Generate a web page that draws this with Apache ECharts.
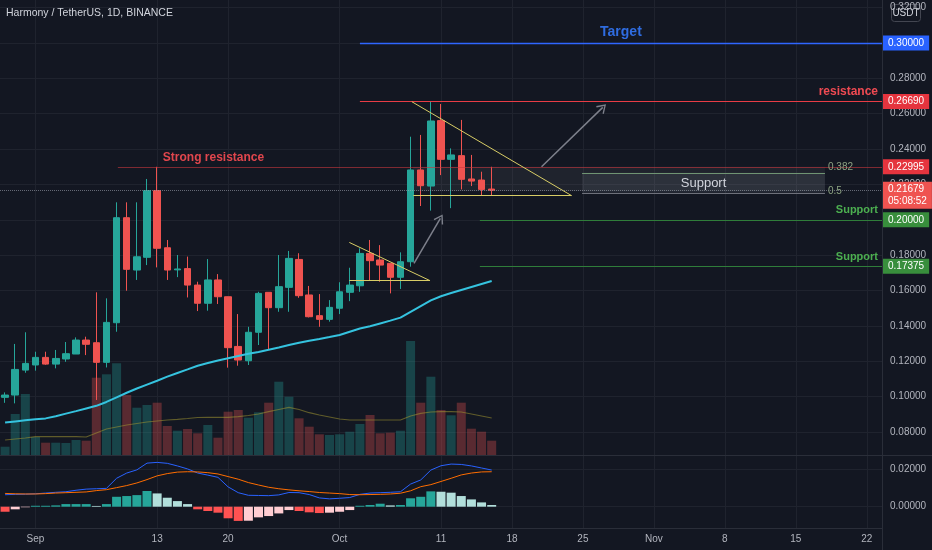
<!DOCTYPE html>
<html><head><meta charset="utf-8">
<script src="https://cdn.jsdelivr.net/npm/echarts@6/dist/echarts.min.js"></script>
<style>html,body{margin:0;padding:0;background:#131722;}#c{width:932px;height:550px;}</style>
</head><body><div id="c"></div><script>
// ---------- data ----------
const dates = ['2021-08-29','2021-08-30','2021-08-31','2021-09-01','2021-09-02','2021-09-03','2021-09-04','2021-09-05','2021-09-06','2021-09-07',
'2021-09-08','2021-09-09','2021-09-10','2021-09-11','2021-09-12','2021-09-13','2021-09-14','2021-09-15','2021-09-16','2021-09-17',
'2021-09-18','2021-09-19','2021-09-20','2021-09-21','2021-09-22','2021-09-23','2021-09-24','2021-09-25','2021-09-26','2021-09-27',
'2021-09-28','2021-09-29','2021-09-30','2021-10-01','2021-10-02','2021-10-03','2021-10-04','2021-10-05','2021-10-06','2021-10-07',
'2021-10-08','2021-10-09','2021-10-10','2021-10-11','2021-10-12','2021-10-13','2021-10-14','2021-10-15','2021-10-16'];
const open  = [0.0996,0.1009,0.1150,0.1179,0.1222,0.1184,0.1213,0.1241,0.1320,0.1305,0.1194,0.1418,0.2012,0.1716,0.1788,0.2165,0.1842,0.1717,0.1724,0.1631,0.1528,0.1660,0.1565,0.1284,0.1203,0.1364,0.1590,0.1503,0.1618,0.1776,0.1575,0.1458,0.1437,0.1500,0.1590,0.1627,0.1810,0.1773,0.1754,0.1675,0.1763,0.2282,0.2191,0.2561,0.2342,0.2363,0.2231,0.2225,0.2174];
const close = [0.1009,0.1154,0.1188,0.1222,0.1184,0.1216,0.1243,0.1320,0.1296,0.1194,0.1420,0.2012,0.1720,0.1791,0.2165,0.1839,0.1716,0.1722,0.1631,0.1528,0.1660,0.1565,0.1277,0.1207,0.1364,0.1584,0.1503,0.1622,0.1782,0.1571,0.1452,0.1437,0.1505,0.1593,0.1631,0.1810,0.1769,0.1744,0.1675,0.1763,0.2282,0.2193,0.2559,0.2342,0.2367,0.2229,0.2219,0.2172,0.21679];
const low   = [0.0965,0.0962,0.1135,0.1147,0.1180,0.1160,0.1197,0.1241,0.1235,0.0981,0.1165,0.1367,0.1599,0.1660,0.1744,0.1731,0.1660,0.1676,0.1561,0.1484,0.1486,0.1524,0.1164,0.1175,0.1179,0.1292,0.1264,0.1480,0.1480,0.1559,0.1448,0.1395,0.1424,0.1467,0.1540,0.1593,0.1654,0.1650,0.1584,0.1609,0.1735,0.2078,0.2052,0.2253,0.2066,0.2172,0.2191,0.2135,0.2135];
const high  = [0.1024,0.1298,0.1364,0.1254,0.1254,0.1264,0.1309,0.1335,0.1339,0.1590,0.1556,0.2099,0.2099,0.2099,0.2231,0.2300,0.1886,0.1801,0.1792,0.1650,0.1778,0.1693,0.1566,0.1467,0.1395,0.1593,0.1590,0.1801,0.1824,0.1811,0.1626,0.1580,0.1546,0.1647,0.1729,0.1839,0.1886,0.1857,0.1754,0.1816,0.2470,0.2480,0.2668,0.2655,0.2404,0.2565,0.2367,0.2272,0.2300];
const ma50  = [0.0854,0.0860,0.0866,0.0872,0.0877,0.0889,0.0904,0.0918,0.0933,0.0948,0.0970,0.0996,0.1022,0.1046,0.1068,0.1090,0.1113,0.1134,0.1154,0.1175,0.1190,0.1204,0.1217,0.1230,0.1242,0.1253,0.1265,0.1278,0.1292,0.1305,0.1316,0.1326,0.1337,0.1349,0.1367,0.1385,0.1398,0.1414,0.1430,0.1447,0.1480,0.1512,0.1544,0.1568,0.1586,0.1603,0.1620,0.1637,0.1654];
const volume   = [9.3,42,62,19,13.3,13.3,13,16,15.3,78.3,81.7,92.7,61,48.3,51,53.3,30,25.3,27,22.7,31,18.3,44.3,46,38.3,43.7,53.3,74.3,59.3,37.7,29.3,21.7,21,21.7,24.3,32,41,22.7,23.3,25.3,115,53.3,79.3,46,40.7,53.3,27.3,24.3,15.3];
const volumeMA = [16,17,18,19.3,19.3,19.3,19.3,19.3,19,23,27,29,31,32.5,34,35,36,36.7,37.5,38.5,38.7,38.7,38.7,39.3,40.5,42,44.3,46.5,48.7,46.5,43.3,41,39,37,36,36,36,36,36,36,40,42.7,44,44.3,44.3,44,42,40,38];
const macd   = [0.0064,0.0066,0.0067,0.0069,0.0073,0.0077,0.0080,0.0088,0.0094,0.0096,0.0098,0.0152,0.0180,0.0197,0.0233,0.0237,0.0232,0.0218,0.0202,0.0180,0.0169,0.0157,0.0106,0.0075,0.0061,0.0060,0.0059,0.0063,0.0076,0.0075,0.0065,0.0047,0.0042,0.0045,0.0049,0.0066,0.0073,0.0075,0.0077,0.0080,0.0121,0.0143,0.0196,0.0219,0.0228,0.0226,0.0218,0.0207,0.0196];
const signal = [0.0071,0.0069,0.0068,0.0068,0.0070,0.0073,0.0075,0.0077,0.0079,0.0086,0.0091,0.0102,0.0113,0.0127,0.0145,0.0165,0.0177,0.0185,0.0187,0.0186,0.0182,0.0175,0.0161,0.0147,0.0129,0.0116,0.0104,0.0096,0.0090,0.0085,0.0081,0.0076,0.0073,0.0070,0.0065,0.0064,0.0065,0.0066,0.0068,0.0072,0.0085,0.0107,0.0118,0.0135,0.0152,0.0170,0.0180,0.0186,0.0187];
const hist   = [-0.0027,-0.0014,-0.0003,0.0005,0.0005,0.0007,0.0014,0.0014,0.0014,0.0004,0.0014,0.0053,0.0057,0.0062,0.0084,0.0071,0.0048,0.0030,0.0014,-0.0014,-0.0023,-0.0032,-0.0062,-0.0076,-0.0075,-0.0057,-0.0050,-0.0036,-0.0018,-0.0023,-0.0030,-0.0034,-0.0032,-0.0027,-0.0018,0.0005,0.0009,0.0016,0.0007,0.0009,0.0045,0.0053,0.0082,0.0080,0.0075,0.0057,0.0039,0.0023,0.0009];

// ---------- axes / ticks ----------
const priceTicks = [0.08,0.10,0.12,0.14,0.16,0.18,0.20,0.22,0.24,0.26,0.28,0.30,0.32];
const macdTicks = [0, 0.02];
const dateTicks = ['2021-09-01','2021-09-13','2021-09-20','2021-10-01','2021-10-11','2021-10-18','2021-10-25','2021-11-01','2021-11-08','2021-11-15','2021-11-22'];
const dateTickLabels = ['Sep','13','20','Oct','11','18','25','Nov','8','15','22'];
const xRange = ['2021-08-28 12:00','2021-11-23 12:00'];
const priceRange = [0.066995, 0.324318];
const volumeRange = [0, 201];
const macdRange = [-0.01139, 0.027647];
const lastPrice = 0.21679, countdown = '05:08:52';

// ---------- drawings ----------
const targetLine = {from:'2021-10-03 00:00', price:0.30};
const resistanceLine = {from:'2021-10-03 00:00', price:0.2669};
const strongResLine = {from:'2021-09-09 03:00', labelTo:'2021-09-28 00:00', price:0.22995};
const supportLines = [{from:'2021-10-14 20:00', price:0.20}, {from:'2021-10-14 20:00', price:0.17375}];
const fibBand = {from:'2021-10-08 06:00', to:'2021-11-17 21:00', top:0.22995, bottom:0.2162};
const supportBox = {from:'2021-10-24 22:00', to:'2021-11-17 21:00', top:0.2266, bottom:0.2150};
const yellowLines = [
  [['2021-10-08 03:00',0.2668],['2021-10-23 21:00',0.2137]],
  [['2021-10-08 06:30',0.2137],['2021-10-23 21:00',0.2137]],
  [['2021-10-01 23:00',0.1872],['2021-10-09 22:00',0.1656]],
  [['2021-10-01 23:00',0.1656],['2021-10-09 22:00',0.1656]]
];
const arrows = [
  [['2021-10-08 08:00',0.1754],['2021-10-10 22:30',0.2008]],
  [['2021-10-20 22:00',0.2300],['2021-10-26 23:00',0.2636]]
];

// ---------- build ----------
const T = s => {
  const m = s.match(/(\d+)-(\d+)-(\d+)(?: (\d+):(\d+))?/);
  return Date.UTC(+m[1], +m[2]-1, +m[3], m[4]?+m[4]:0, m[5]?+m[5]:0);
};
const xMin = T(xRange[0]), xMax = T(xRange[1]);
const tickTs = dateTicks.map(T);
const AX = "'Liberation Sans',Arial,sans-serif";
const SANS = "'Liberation Sans',Arial,sans-serif";
const GRID = '#1f232e', AXIS_TXT = '#b2b5be', UP = '#26a69a', DOWN = '#ef5350';
const NONE = 'rgba(0,0,0,0)';

const ts = dates.map(T);
const candles = ts.map((t,i)=>[t, open[i], close[i], low[i], high[i]]);
const volData = ts.map((t,i)=>({value:[t, volume[i]], itemStyle:{color: close[i]>=open[i] ? 'rgba(38,166,154,0.32)' : 'rgba(239,83,80,0.32)'}}));
const histData = ts.map((t,i)=>{
  const h = hist[i], p = i>0 ? hist[i-1] : null;
  let c;
  if (h >= 0) c = (p === null || h >= p) ? '#26a69a' : '#b2dfdb';
  else c = (p === null || h < p) ? '#ff5252' : '#ffcdd2';
  return {value:[t, h], itemStyle:{color:c}};
});

const X = v => typeof v === 'number' ? v : T(v);
function seg(p1, p2, label, endSymbol) {
  const a = {coord:[X(p1[0]), p1[1]], label: label || {show:false}};
  const b = {coord:[X(p2[0]), p2[1]]};
  if (endSymbol) { a.symbol='none'; b.symbol=endSymbol; b.symbolSize=[11,9]; }
  return [a, b];
}
function box(price, text, bg, extra) {
  return {yAxis: price, label: Object.assign({show:true, position:'end', formatter:text, backgroundColor:bg, color:'#ffffff', fontSize:10, fontFamily:AX, padding:[3,5,2,5], distance:1}, extra||{})};
}
const CHEV = 'path://M0,12 L6,0 L12,12 L10.6,12.9 L6,3.4 L1.4,12.9 Z';

// one helper series per line style
function marks(name, lineStyle, data, z) {
  return {type:'line', name, xAxisIndex:0, yAxisIndex:0, data:[], z: z||6, silent:true, clip:false,
    markLine:{silent:true, precision:6, symbol:['none','none'], lineStyle:Object.assign({type:'solid', width:1, opacity:1}, lineStyle), data}};
}
const markSeries = [
  marks('target', {color:'#2f66ff', width:1.3}, [
    seg([targetLine.from, targetLine.price], [xMax, targetLine.price],
      {show:true, position:'insideMiddleTop', formatter:'Target', color:'#2f6ce0', fontSize:14, fontWeight:'bold', fontFamily:SANS, distance:4})]),
  marks('resistance', {color:'#e83c45', width:1.2}, [
    seg([resistanceLine.from, resistanceLine.price], [xMax, resistanceLine.price],
      {show:true, position:'insideEndTop', formatter:'resistance', color:'#ef4a52', fontSize:12, fontWeight:'bold', fontFamily:SANS, distance:4})]),
  marks('strongRes', {color:'rgba(200,55,62,0.6)'}, [
    seg([strongResLine.from, strongResLine.price], [xMax, strongResLine.price])]),
  marks('supportTop', {color:'#6f9473'}, [seg([supportBox.from, supportBox.top], [supportBox.to, supportBox.top])]),
  marks('supportBottom', {color:'#6e717b'}, [seg([supportBox.from, supportBox.bottom], [supportBox.to, supportBox.bottom])]),
  marks('supports', {color:'#2f7d3a'}, supportLines.map(s => seg([s.from, s.price], [xMax, s.price],
      {show:true, position:'insideEndTop', formatter:'Support', color:'#4caf50', fontSize:11, fontWeight:'bold', fontFamily:SANS, distance:4}))),
  marks('yellow', {color:'#d8cd66'}, yellowLines.map(l => seg(l[0], l[1]))),
  marks('arrows', {color:'#7d808b', width:1.5}, arrows.map(l => seg(l[0], l[1], null, CHEV))),
  marks('lastPrice', {color:'rgba(170,173,185,0.55)', type:'dotted'}, [{yAxis:lastPrice, label:{show:false}}]),
  marks('labels', {color:NONE, width:0}, [
    seg([strongResLine.from, strongResLine.price], [strongResLine.labelTo, strongResLine.price],
      {show:true, position:'insideMiddleTop', formatter:'Strong resistance', color:'#e0464d', fontSize:12, fontWeight:'bold', fontFamily:SANS, distance:3}),
    seg([fibBand.from, fibBand.top], [fibBand.to, fibBand.top],
      {show:true, position:'end', formatter:'0.382', color:'#8da383', fontSize:10, fontFamily:AX, distance:3}),
    seg([fibBand.from, fibBand.bottom], [fibBand.to, fibBand.bottom],
      {show:true, position:'end', formatter:'0.5', color:'#8da383', fontSize:10, fontFamily:AX, distance:3}),
    box(targetLine.price, targetLine.price.toFixed(5), '#2962ff'),
    box(resistanceLine.price, resistanceLine.price.toFixed(5), '#e5343e'),
    box(strongResLine.price, strongResLine.price.toFixed(5), '#e5343e'),
    box(lastPrice, lastPrice.toFixed(5)+'\n'+countdown, '#ef5350', {lineHeight:12, offset:[0,5], padding:[2,5,1,5]}),
    ...supportLines.map(s => box(s.price, s.price.toFixed(5), '#388e3c'))
  ], 7)
];

const areaMarks = [
  [{coord:[T(fibBand.from), fibBand.top], itemStyle:{color:'rgba(120,123,134,0.12)'}}, {coord:[T(fibBand.to), fibBand.bottom]}],
  [{coord:[T(supportBox.from), supportBox.top], itemStyle:{color:'rgba(170,175,190,0.10)'},
    label:{show:true, position:'inside', formatter:'Support', color:'#d1d4dc', fontSize:13, fontFamily:SANS}},
   {coord:[T(supportBox.to), supportBox.bottom]}]
];

const xBase = {type:'value', min:xMin, max:xMax, scale:true};
const dateFmt = (v)=>{ let k=-1, best=Infinity; tickTs.forEach((t,j)=>{const d=Math.abs(t-v); if(d<best){best=d;k=j;}}); return best<43200000 ? dateTickLabels[k] : ''; };
const chart = echarts.init(document.getElementById('c'), null, {renderer:'canvas'});
chart.setOption({
  backgroundColor:'#131722',
  animation:false,
  title:{text:'Harmony / TetherUS, 1D, BINANCE', left:6, top:8, padding:0, textStyle:{color:'#d1d4dc', fontSize:10.5, fontWeight:'normal', fontFamily:AX}},
  grid:[
    {left:0, right:50, top:0, height:455},
    {left:0, right:50, top:255, height:201},
    {left:0, right:50, top:455, height:73}
  ],
  xAxis:[
    Object.assign({gridIndex:0, axisLine:{show:false}, axisTick:{show:false, customValues:tickTs}, axisLabel:{show:false, customValues:tickTs}, splitLine:{show:true, lineStyle:{color:GRID}}}, xBase),
    Object.assign({gridIndex:1, show:false, splitLine:{show:false}}, xBase),
    Object.assign({gridIndex:2, axisLine:{show:false}, axisTick:{show:false, customValues:tickTs},
      axisLabel:{show:true, customValues:tickTs, color:AXIS_TXT, fontSize:10, fontFamily:AX, margin:6, formatter:dateFmt},
      splitLine:{show:true, lineStyle:{color:GRID}}}, xBase)
  ],
  yAxis:[
    {type:'value', gridIndex:0, position:'right', min:priceRange[0], max:priceRange[1], axisLine:{show:false}, axisTick:{show:false, customValues:priceTicks},
     axisLabel:{customValues:priceTicks, formatter:v=>v.toFixed(5), color:AXIS_TXT, fontSize:10, fontFamily:AX, margin:8}, splitLine:{show:true, lineStyle:{color:GRID}}},
    {type:'value', gridIndex:1, min:volumeRange[0], max:volumeRange[1], show:false, splitLine:{show:false}},
    {type:'value', gridIndex:2, position:'right', min:macdRange[0], max:macdRange[1], axisLine:{show:false}, axisTick:{show:false, customValues:macdTicks},
     axisLabel:{customValues:macdTicks, formatter:v=>v.toFixed(5), color:AXIS_TXT, fontSize:10, fontFamily:AX, margin:8}, splitLine:{show:true, lineStyle:{color:GRID}}}
  ],
  series:[
    {type:'line', name:'areas', xAxisIndex:0, yAxisIndex:0, data:[], z:1, silent:true, clip:false,
     markArea:{silent:true, data:areaMarks}},
    {type:'bar', name:'Volume', xAxisIndex:1, yAxisIndex:1, data:volData, barWidth:9, z:1, silent:true},
    {type:'line', name:'Volume MA', xAxisIndex:1, yAxisIndex:1, data:ts.map((t,i)=>[t, volumeMA[i]]), showSymbol:false, symbol:'none', z:2,
     lineStyle:{color:'rgba(160,150,50,0.55)', width:1.2}},
    {type:'candlestick', name:'ONEUSDT', xAxisIndex:0, yAxisIndex:0, data:candles, encode:{x:0, y:[1,2,3,4]}, barWidth:7, z:3,
     itemStyle:{color:UP, color0:DOWN, borderColor:UP, borderColor0:DOWN, borderWidth:1}},
    {type:'line', name:'MA', xAxisIndex:0, yAxisIndex:0, data:ts.map((t,i)=>[t, ma50[i]]), showSymbol:false, symbol:'none', z:4,
     lineStyle:{color:'#35c3df', width:2}},
    ...markSeries,
    {type:'bar', name:'Histogram', xAxisIndex:2, yAxisIndex:2, data:histData, barWidth:9, z:2},
    {type:'line', name:'MACD', xAxisIndex:2, yAxisIndex:2, data:ts.map((t,i)=>[t, macd[i]]), showSymbol:false, symbol:'none', z:3, lineStyle:{color:'#2962ff', width:1}},
    {type:'line', name:'Signal', xAxisIndex:2, yAxisIndex:2, data:ts.map((t,i)=>[t, signal[i]]), showSymbol:false, symbol:'none', z:3, lineStyle:{color:'#ff6d00', width:1}}
  ],
  graphic:[
    {type:'line', z:50, silent:true, shape:{x1:882.5,y1:0,x2:882.5,y2:550}, style:{stroke:'#2a2e39', lineWidth:1}},
    {type:'line', z:50, silent:true, shape:{x1:0,y1:455.5,x2:932,y2:455.5}, style:{stroke:'#2a2e39', lineWidth:1}},
    {type:'line', z:50, silent:true, shape:{x1:0,y1:528.5,x2:882,y2:528.5}, style:{stroke:'#2a2e39', lineWidth:1}},
    {type:'group', left:891, top:4, z:100, children:[
      {type:'rect', shape:{x:0,y:0,width:29,height:17,r:3}, style:{fill:'#131722', stroke:'#434651', lineWidth:1}},
      {type:'text', x:14.5, y:8.5, style:{text:'USDT', fill:'#d1d4dc', font:"10px "+AX, align:'center', verticalAlign:'middle'}}
    ]}
  ]
});
</script></body></html>
